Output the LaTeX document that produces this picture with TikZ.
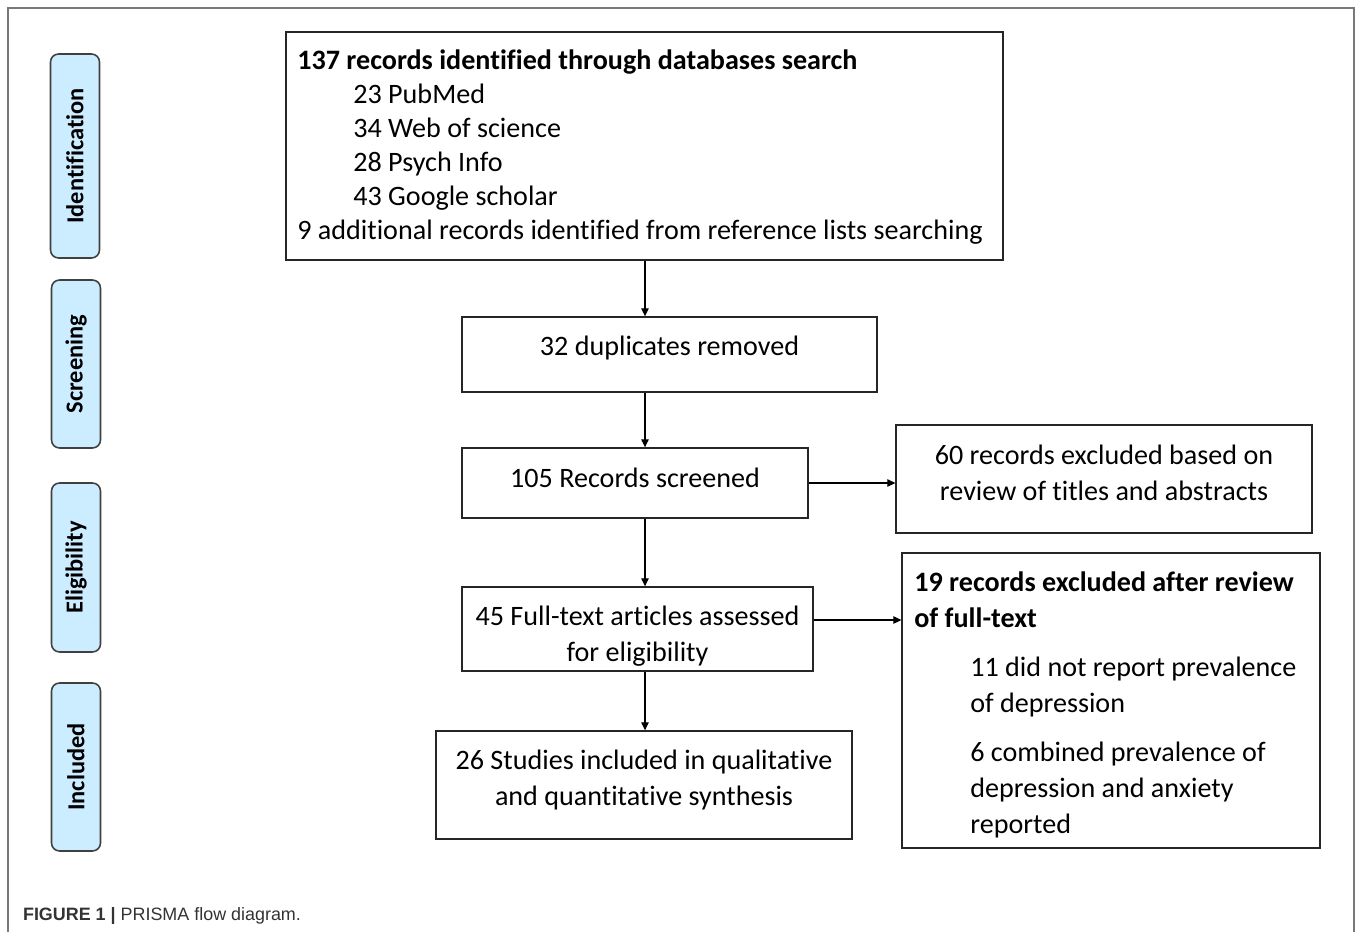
\documentclass[tikz,border=0pt]{standalone}
\usepackage{fontspec}
\setmainfont{Carlito}[Ligatures=NoCommon]
\newfontfamily\capfont{Liberation Sans}
\usetikzlibrary{arrows.meta, positioning}
\definecolor{stagefill}{RGB}{204,236,255}
\definecolor{framegray}{RGB}{120,120,120}
\definecolor{capgray}{RGB}{51,51,51}

\begin{document}
\begin{tikzpicture}[x=0.02cm, y=-0.02cm,
    stage/.style={draw=black!75, line width=0.9pt, rounded corners=0.16cm, fill=stagefill, minimum height=0.98cm, font=\fontsize{13.9}{16}\selectfont\bfseries},
    box/.style={draw=black!85, line width=0.8pt, inner sep=0pt},
    txt/.style={align=center, inner sep=0pt, font=\fontsize{16}{20.5}\selectfont},
    listtxt/.style={txt, align=left, anchor=west},
    arr/.style={-{Triangle[length=1.6mm, width=1.5mm]}, line width=0.7pt}]
    \useasboundingbox (0,0) rectangle (1358,932);
    \draw[framegray, line width=1.1pt] (8,932) -- (8,8) -- (1354,8) -- (1354,932);

    \node[stage, rotate=90, minimum width=4.08cm] (ident) at (75,156) {Identification};
    \node[stage, rotate=90, minimum width=3.36cm] (screen) at (76,364) {Screening};
    \node[stage, rotate=90, minimum width=3.38cm] (elig) at (76,567.5) {Eligibility};
    \node[stage, rotate=90, minimum width=3.36cm] (incl) at (76,767) {Included};

    \node[box, minimum width=14.34cm, minimum height=4.56cm] (search) at (644.5,146) {};
    \node[listtxt, font=\fontsize{16}{19.4}\selectfont] (searchtxt) at (297,147)
        {\textbf{137 records identified through databases search}\\
         \hspace*{1.12cm}23 PubMed\\
         \hspace*{1.12cm}34 Web of science\\
         \hspace*{1.12cm}28 Psych Info\\
         \hspace*{1.12cm}43 Google scholar\\
         9 additional records identified from reference lists searching};

    \node[box, minimum width=8.3cm, minimum height=1.5cm] (dup) at (669.5,354.5) {};
    \node[txt] (duptxt) at (669.5,348) {32 duplicates removed};

    \node[box, minimum width=6.92cm, minimum height=1.4cm] (screened) at (635,483) {};
    \node[txt] (screenedtxt) at (635,478) {105 Records screened};

    \node[box, minimum width=8.32cm, minimum height=2.16cm] (excl) at (1104,479) {};
    \node[txt] (excltxt) at (1104,473) {60 records excluded based on\\review of titles and abstracts};

    \node[box, minimum width=7.02cm, minimum height=1.68cm] (full) at (637.5,629) {};
    \node[txt] (fulltxt) at (637.5,636) {45 Full-text articles assessed\\for eligibility};

    \node[box, minimum width=8.36cm, minimum height=5.9cm] (exclfull) at (1111,700.5) {};
    \node[listtxt] (exclfulltxt) at (914,705)
        {\textbf{19 records excluded after review}\\
         \textbf{of full-text}\\[0.26cm]
         \hspace*{1.12cm}11 did not report prevalence\\
         \hspace*{1.12cm}of depression\\[0.26cm]
         \hspace*{1.12cm}6 combined prevalence of\\
         \hspace*{1.12cm}depression and anxiety\\
         \hspace*{1.12cm}reported};

    \node[box, minimum width=8.32cm, minimum height=2.16cm] (studies) at (644,785) {};
    \node[txt] (studiestxt) at (644,780) {26 Studies included in qualitative\\and quantitative synthesis};

    \coordinate (spine) at (645,0);
    \coordinate (fullout) at ([yshift=0.18cm]full.east);
    \draw[arr] (search.south -| spine) -- (dup.north -| spine);
    \draw[arr] (dup.south -| spine) -- (screened.north -| spine);
    \draw[arr] (screened.south -| spine) -- (full.north -| spine);
    \draw[arr] (full.south -| spine) -- (studies.north -| spine);
    \draw[arr] (screened.east) -- (screened.east -| excl.west);
    \draw[arr] (fullout) -- (fullout -| exclfull.west);

    \node[anchor=base west, inner sep=0pt, text=capgray, font=\capfont\fontsize{10.2}{12}\selectfont] (caption) at (22.7,920)
        {\textbf{FIGURE 1 |} PRISMA flow diagram.};
\end{tikzpicture}
\end{document}
